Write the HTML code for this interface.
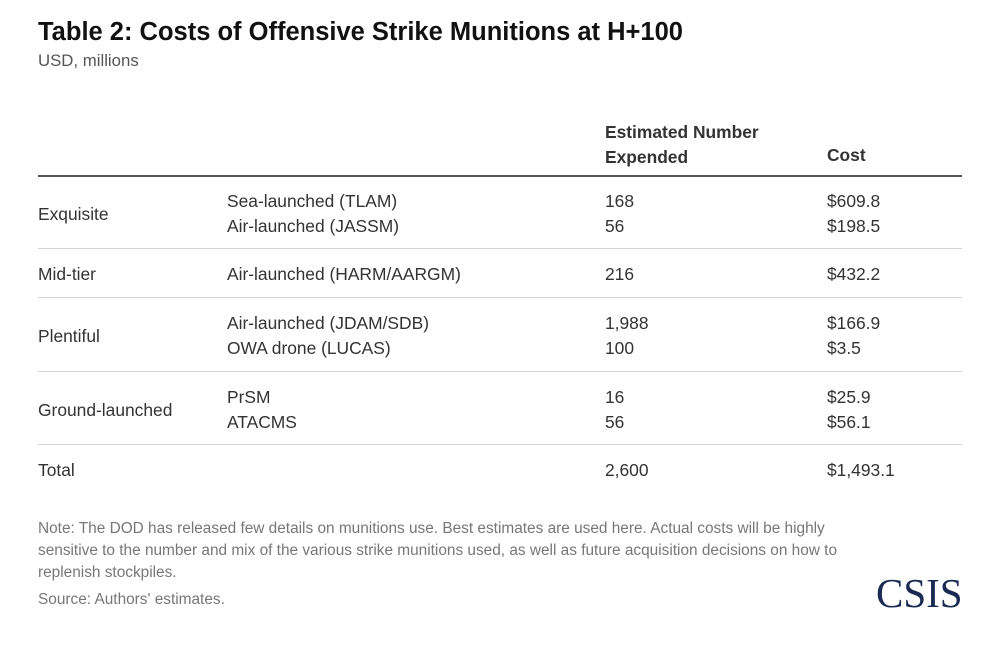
<!DOCTYPE html>
<html><head><meta charset="utf-8">
<style>
body{margin:0;width:1000px;height:655px;background:#fff;position:relative;overflow:hidden;font-family:"Liberation Sans",sans-serif;}
.t{position:absolute;white-space:nowrap;color:#333;font-size:17.4px;line-height:20px;}
.ln{position:absolute;left:38px;width:924px;height:1px;background:#d2d2d2;}
.n{position:absolute;white-space:nowrap;color:#777;font-size:15.4px;line-height:22px;left:38px;}
</style></head><body>
<div class="t" style="left:38px;top:17px;font-size:25.5px;line-height:30px;font-weight:bold;color:#111;">Table 2: Costs of Offensive Strike Munitions at H+100</div>
<div class="t" style="left:38px;top:51px;color:#555;font-size:16.8px;">USD, millions</div>

<div class="t" style="left:605px;top:120px;font-weight:bold;line-height:25px;">Estimated Number<br>Expended</div>
<div class="t" style="left:827px;top:145px;font-weight:bold;">Cost</div>
<div class="ln" style="top:175px;height:1.5px;background:#555;"></div>

<div class="t" style="left:38px;top:204px;">Exquisite</div>
<div class="t" style="left:227px;top:191px;">Sea-launched (TLAM)</div>
<div class="t" style="left:605px;top:191px;">168</div>
<div class="t" style="left:827px;top:191px;">$609.8</div>
<div class="t" style="left:227px;top:216px;">Air-launched (JASSM)</div>
<div class="t" style="left:605px;top:216px;">56</div>
<div class="t" style="left:827px;top:216px;">$198.5</div>
<div class="ln" style="top:248px;"></div>

<div class="t" style="left:38px;top:264px;">Mid-tier</div>
<div class="t" style="left:227px;top:264px;">Air-launched (HARM/AARGM)</div>
<div class="t" style="left:605px;top:264px;">216</div>
<div class="t" style="left:827px;top:264px;">$432.2</div>
<div class="ln" style="top:297px;"></div>

<div class="t" style="left:38px;top:326px;">Plentiful</div>
<div class="t" style="left:227px;top:313px;">Air-launched (JDAM/SDB)</div>
<div class="t" style="left:605px;top:313px;">1,988</div>
<div class="t" style="left:827px;top:313px;">$166.9</div>
<div class="t" style="left:227px;top:338px;">OWA drone (LUCAS)</div>
<div class="t" style="left:605px;top:338px;">100</div>
<div class="t" style="left:827px;top:338px;">$3.5</div>
<div class="ln" style="top:371px;"></div>

<div class="t" style="left:38px;top:400px;">Ground-launched</div>
<div class="t" style="left:227px;top:387px;">PrSM</div>
<div class="t" style="left:605px;top:387px;">16</div>
<div class="t" style="left:827px;top:387px;">$25.9</div>
<div class="t" style="left:227px;top:412px;">ATACMS</div>
<div class="t" style="left:605px;top:412px;">56</div>
<div class="t" style="left:827px;top:412px;">$56.1</div>
<div class="ln" style="top:444px;"></div>

<div class="t" style="left:38px;top:460px;">Total</div>
<div class="t" style="left:605px;top:460px;">2,600</div>
<div class="t" style="left:827px;top:460px;">$1,493.1</div>

<div class="n" style="top:518px;">Note: The DOD has released few details on munitions use. Best estimates are used here. Actual costs will be highly<br>sensitive to the number and mix of the various strike munitions used, as well as future acquisition decisions on how to<br>replenish stockpiles.</div>
<div class="n" style="top:589px;">Source: Authors' estimates.</div>
<div class="t" style="left:876px;top:572px;font-family:'Liberation Serif',serif;font-size:41px;line-height:42px;color:#1a2a52;">CSIS</div>
</body></html>
